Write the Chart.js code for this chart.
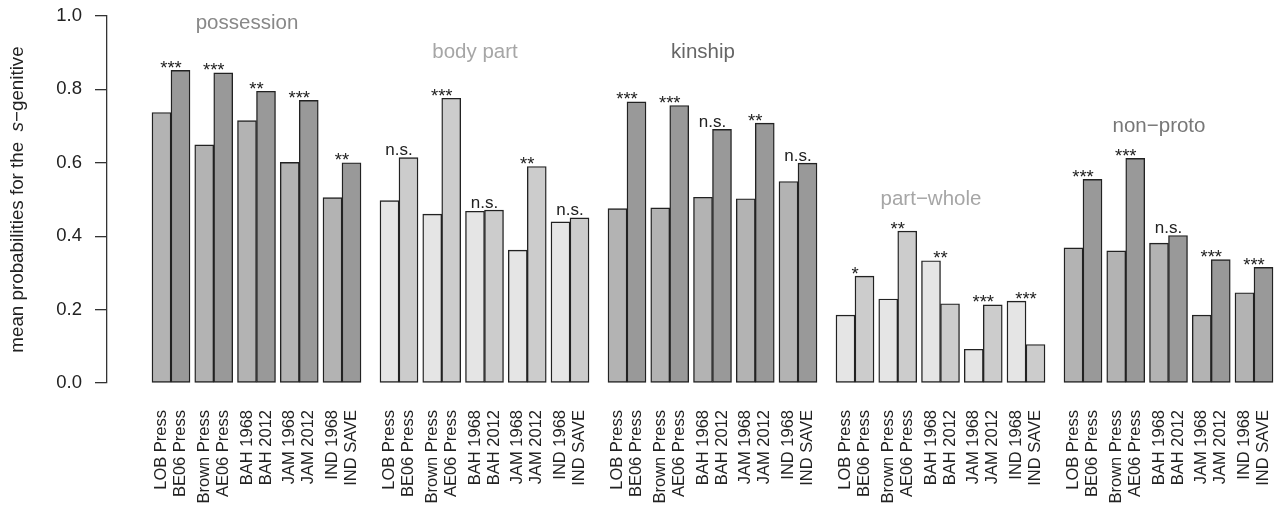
<!DOCTYPE html>
<html><head><meta charset="utf-8">
<script src="https://cdn.jsdelivr.net/npm/chart.js@4.4.0/dist/chart.umd.min.js"></script>
<style>html,body{margin:0;padding:0;background:#fff;}</style>
</head><body>
<canvas id="c" width="1281" height="508"></canvas>
<script>
// ---------- data ----------
const groups = ['possession', 'body part', 'kinship', 'part\u2212whole', 'non\u2212proto'];
const corpusPairs = [['LOB Press', 'BE06 Press'], ['Brown Press', 'AE06 Press'], ['BAH 1968', 'BAH 2012'], ['JAM 1968', 'JAM 2012'], ['IND 1968', 'IND SAVE']];
const possession = [0.737, 0.852, 0.649, 0.845, 0.715, 0.795, 0.601, 0.770, 0.505, 0.600];
const bodyPart   = [0.497, 0.614, 0.460, 0.776, 0.468, 0.471, 0.362, 0.590, 0.439, 0.450];
const kinship    = [0.475, 0.766, 0.477, 0.756, 0.506, 0.691, 0.502, 0.708, 0.549, 0.599];
const partWhole  = [0.185, 0.291, 0.229, 0.414, 0.333, 0.216, 0.092, 0.213, 0.223, 0.105];
const nonProto   = [0.368, 0.555, 0.360, 0.612, 0.381, 0.402, 0.185, 0.336, 0.246, 0.315];
const sigPossession = ['***', '***', '**', '***', '**'];
const sigBodyPart   = ['n.s.', '***', 'n.s.', '**', 'n.s.'];
const sigKinship    = ['***', '***', 'n.s.', '**', 'n.s.'];
const sigPartWhole  = ['*', '**', '**', '***', '***'];
const sigNonProto   = ['***', '***', 'n.s.', '***', '***'];
const yTicks = [0, 0.2, 0.4, 0.6, 0.8, 1.0];
const titleLevels = [0.98, 0.90, 0.90, 0.50, 0.70];

const groupValues = [possession, bodyPart, kinship, partWhole, nonProto];
const groupSigs = [sigPossession, sigBodyPart, sigKinship, sigPartWhole, sigNonProto];

// ---------- styles ----------
const groupFills = [['#b3b3b3', '#999999'], ['#e5e5e5', '#cccccc'], ['#b3b3b3', '#999999'], ['#e5e5e5', '#cccccc'], ['#b3b3b3', '#999999']];
const titleColors = ['#888888', '#a6a6a6', '#666666', '#a6a6a6', '#777777'];
const FONT = '"Liberation Sans", Arial, Helvetica, sans-serif';

// layout units: bar = 4, gap between pairs = 1, gap between groups = 4
const BAR = 4, PAIR_GAP = 1, GROUP_GAP = 4;
const PAIR_STRIDE = 2 * BAR + PAIR_GAP;
const GROUP_STRIDE = corpusPairs.length * PAIR_STRIDE - PAIR_GAP + GROUP_GAP;
const pos = (g, p, b) => g * GROUP_STRIDE + p * PAIR_STRIDE + b * BAR + BAR / 2;

const points = [], fills = [], tickPos = [], tickLabels = [];
groupValues.forEach((vals, g) => {
  corpusPairs.forEach((pair, p) => {
    pair.forEach((lab, b) => {
      const x = pos(g, p, b);
      points.push({ x: x, y: vals[2 * p + b] });
      fills.push(groupFills[g][b]);
      tickPos.push(x);
      tickLabels.push(lab);
    });
  });
});

const annot = {
  id: 'annot',
  afterDatasetsDraw(chart) {
    const ctx = chart.ctx, xs = chart.scales.x, ys = chart.scales.y, ca = chart.chartArea;
    ctx.save();
    // significance labels
    ctx.fillStyle = '#222';
    ctx.textAlign = 'center';
    ctx.textBaseline = 'alphabetic';
    groupValues.forEach((vals, g) => {
      groupSigs[g].forEach((s, p) => {
        ctx.font = (s.indexOf('*') >= 0 ? '18.5px ' : '17px ') + FONT;
        const top = ys.getPixelForValue(Math.max(vals[2 * p], vals[2 * p + 1]));
        const x = xs.getPixelForValue(pos(g, p, 0) + BAR / 2);
        const m = ctx.measureText(s);
        ctx.fillText(s, x, top - 2.5 - m.actualBoundingBoxDescent);
      });
    });
    // group titles
    ctx.font = '20.5px ' + FONT;
    ctx.textBaseline = 'middle';
    groups.forEach((t, g) => {
      ctx.fillStyle = titleColors[g];
      ctx.fillText(t, xs.getPixelForValue(pos(g, 2, 0)), ys.getPixelForValue(titleLevels[g]));
    });
    // y-axis title with italic s
    const segs = [['mean probabilities for the  ', 'normal'], ['s', 'italic'], ['\u2212genitive', 'normal']];
    let total = 0;
    segs.forEach(sg => { ctx.font = sg[1] + ' 18.8px ' + FONT; sg.push(ctx.measureText(sg[0]).width); total += sg[2]; });
    ctx.translate(18, (ca.top + ca.bottom) / 2);
    ctx.rotate(-Math.PI / 2);
    ctx.fillStyle = '#222';
    ctx.textAlign = 'left';
    ctx.textBaseline = 'middle';
    let cx = -total / 2;
    segs.forEach(sg => { ctx.font = sg[1] + ' 18.8px ' + FONT; ctx.fillText(sg[0], cx, 0); cx += sg[2]; });
    ctx.restore();
  }
};

new Chart(document.getElementById('c'), {
  type: 'bar',
  data: {
    datasets: [{
      data: points,
      backgroundColor: fills,
      borderColor: '#222222',
      borderWidth: 1.4,
      borderSkipped: false,
      categoryPercentage: 1,
      barPercentage: 1
    }]
  },
  options: {
    responsive: false,
    animation: false,
    devicePixelRatio: 1,
    layout: { padding: { left: 0, right: 3, top: 16, bottom: 0 } },
    plugins: { legend: { display: false }, tooltip: { enabled: false } },
    scales: {
      x: {
        type: 'linear',
        offset: false,
        min: -45 / 4.75,
        max: -45 / 4.75 + 1171 / 4.75,
        grid: { display: false, drawTicks: false },
        border: { display: false },
        afterBuildTicks: s => { s.ticks = tickPos.map(v => ({ value: v })); },
        afterFit: s => { s.height = 125; s.paddingLeft = 0; s.paddingRight = 0; },
        ticks: {
          autoSkip: false,
          minRotation: 90,
          maxRotation: 90,
          padding: 27,
          color: '#222',
          font: { family: FONT, size: 16.5 },
          callback: (v, i) => tickLabels[i]
        }
      },
      y: {
        min: 0,
        max: 1,
        afterBuildTicks: s => { s.ticks = yTicks.map(v => ({ value: v })); },
        afterFit: s => { s.width = 107; s.paddingTop = 0; s.paddingBottom = 0; },
        grid: { drawOnChartArea: false, drawTicks: true, tickLength: 12, color: '#333', lineWidth: 1.3 },
        border: { display: true, color: '#333', width: 1.3 },
        ticks: {
          padding: 13,
          color: '#222',
          font: { family: FONT, size: 18.5 },
          callback: v => v.toFixed(1)
        }
      }
    }
  },
  plugins: [annot]
});
</script>
</body></html>
